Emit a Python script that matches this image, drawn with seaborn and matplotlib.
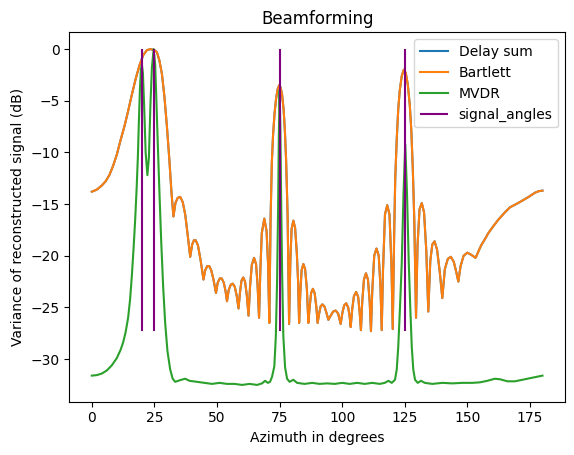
"""Beamforming spectrum: delay-sum / Bartlett vs MVDR, with true signal angles."""

import matplotlib
matplotlib.use('Agg')
import matplotlib.pyplot as plt
import seaborn as sns

# values
bartlett_deg = [
    0, 2, 4, 5.5, 7, 8.5, 10, 11.5, 13, 14.5, 16, 17.5, 19, 20.5, 22, 23.5,
    25, 26, 27, 28, 29, 30, 31, 31.8, 32.6,
    33.4, 34.3, 35.3, 36.3, 37.3, 38.3, 39.3,
    40.1, 40.8, 41.5, 42.4, 43.5, 44.6,
    45.3, 46.1, 46.9, 47.7, 48.6, 49.6,
    50.3, 51.1, 51.9, 52.7, 53.4, 54.0,
    54.7, 55.5, 56.3, 57.1, 57.9, 58.6,
    59.2, 59.8, 60.5, 61.2, 61.9, 62.6,
    63.2, 63.9, 64.8, 65.6, 66.2, 66.8,
    67.3, 67.9, 68.9, 69.8, 70.4, 70.9,
    71.4, 71.9, 72.4, 73.0, 73.6, 74.2, 74.8, 75.4, 76.0, 76.6, 77.1, 77.6,
    78.2, 78.8,
    79.3, 79.8, 80.5, 81.2, 81.9, 82.4, 82.8,
    83.3, 83.8, 84.5, 85.2, 85.9, 86.5,
    87.0, 87.6, 88.3, 89.0, 89.7, 90.2,
    90.8, 91.4, 92.1, 92.9, 93.7, 94.5,
    95.4, 96.4, 97.4, 98.4, 99.4,
    100.1, 100.8, 101.6, 102.4, 103.0, 103.4,
    104.0, 104.7, 105.6, 106.4, 107.0, 107.5,
    108.0, 108.7, 109.5, 110.3, 111.0, 111.5,
    112.0, 112.8, 113.7, 114.6, 115.3, 115.8,
    116.3, 117.1, 118.0, 118.9, 119.7, 120.2,
    120.8, 121.2, 121.8, 122.4, 123.0, 123.8, 124.6, 125.4, 126.2, 127.0,
    127.6, 128.2, 128.8, 129.5,
    130.1, 130.9, 131.8, 132.7, 133.6, 134.4,
    135.2, 136.0, 136.9, 137.9, 139.0, 140.0,
    141.0, 142.2, 143.4, 144.6, 145.6, 146.4,
    147.3, 148.5, 150.0, 151.5, 153.3,
    155.5, 157.0, 158.4, 160.5, 162.4, 165.0, 167.1, 169.5, 171.7, 174.5,
    177.0, 178.5, 180.0,
]
bartlett_db = [
    -13.8, -13.6, -13.2, -12.8, -12.2, -11.3, -10.2, -8.8, -7.5, -6.0, -4.4,
    -2.9, -1.6, -0.6, -0.1, 0.0,
    -0.1, -0.3, -1.1, -2.4, -4.6, -7.5, -10.8, -13.8, -16.2,
    -14.9, -14.4, -14.3, -14.8, -16.0, -18.0, -20.1,
    -18.9, -18.5, -18.5, -19.0, -20.5, -22.3,
    -21.4, -21.0, -21.0, -21.4, -22.3, -23.6,
    -22.6, -22.2, -22.2, -22.6, -23.4, -24.4,
    -23.3, -22.8, -22.7, -23.0, -23.9, -25.1,
    -23.5, -22.4, -22.1, -22.5, -23.8, -25.8,
    -23.0, -20.9, -20.2, -20.8, -22.8, -26.0,
    -21.5, -17.8, -16.4, -17.6, -20.8, -26.5,
    -16.5, -11.0, -8.3, -6.2, -4.8, -3.9, -3.5, -3.7, -4.4, -5.8, -7.8, -10.7,
    -16.0, -26.6,
    -20.5, -17.4, -16.6, -17.3, -19.8, -22.5, -26.5,
    -23.5, -21.4, -20.8, -21.3, -23.2, -26.5,
    -25.0, -23.6, -23.2, -23.6, -25.0, -26.5,
    -25.6, -24.9, -24.7, -24.9, -25.5, -26.2,
    -25.8, -25.4, -25.3, -25.6, -26.6,
    -25.5, -24.8, -24.6, -25.0, -25.9, -26.9,
    -25.2, -23.9, -23.5, -24.0, -25.5, -27.2,
    -24.5, -22.3, -21.7, -22.3, -24.5, -27.3,
    -23.5, -20.0, -19.3, -20.0, -23.0, -27.2,
    -21.5, -16.0, -15.1, -16.0, -21.0, -27.1,
    -17.5, -12.5, -8.7, -5.8, -4.0, -2.6, -2.0, -2.3, -3.4, -5.4,
    -7.8, -11.5, -16.5, -26.0,
    -19.0, -15.5, -14.9, -15.8, -19.5, -25.4,
    -20.5, -18.9, -18.6, -19.4, -21.6, -24.1,
    -21.3, -20.3, -20.1, -20.6, -21.6, -22.5,
    -21.0, -20.0, -19.7, -19.9, -20.2,
    -19.0, -18.4, -17.8, -17.1, -16.5, -15.8, -15.3, -15.0, -14.7, -14.3,
    -13.9, -13.75, -13.7,
]
# delay-and-sum gives the same spectrum as Bartlett
delay_sum_deg = bartlett_deg
delay_sum_db = bartlett_db

mvdr_deg = [
    0, 2, 4, 6, 8, 10, 11.5, 12.5, 13.5, 14.5, 15.3, 16, 16.7, 17.3, 17.9,
    18.4, 18.8, 19.2, 19.6, 20.0, 20.4, 20.9, 21.5, 22.2, 22.8, 23.4, 24.0,
    24.7, 25.3, 25.8, 26.3, 27.0, 27.7, 28.5, 29.3, 30.2, 31.3, 32.3, 33.3,
    34.5, 35.8, 37.3, 39, 42, 45, 48, 51, 54, 57, 60, 63, 66, 68, 69.2, 70.3,
    71.2, 72.0, 72.9, 73.5, 74.0, 74.4, 74.7, 75.0, 75.3, 75.6, 76.0, 76.5,
    77.2, 78.0, 79.0, 80.5, 82, 85, 88, 91, 94, 97, 100, 103, 106, 109, 112,
    115, 117, 118.5, 119.8, 121.1, 121.8, 122.4, 123.1, 123.8, 124.5, 125.2,
    125.9, 126.6, 127.2, 127.8, 128.4, 129.1, 130.2, 131.5, 133, 136, 140,
    144, 148, 152, 155, 158, 161, 163, 166, 169, 172, 175, 178, 180,
]
mvdr_db = [
    -31.6, -31.55, -31.4, -31.1, -30.6, -29.9, -29.1, -28.4, -27.4, -26.0,
    -24.2, -21.9, -19.2, -16.6, -13.5, -10.4, -7.0, -4.0, -2.0, -1.5, -2.3,
    -5.5, -10.0, -12.2, -10.5, -5.5, -1.8, 0.0, -1.5, -5.0, -8.8, -13.8,
    -18.5, -23.0, -26.5, -29.2, -31.0, -31.9, -32.2, -32.1, -32.0, -31.9,
    -32.1, -32.2, -32.3, -32.4, -32.3, -32.4, -32.4, -32.5, -32.4, -32.5,
    -32.35, -32.1, -32.3, -32.2, -31.7, -30.7, -27.8, -22.5, -15.5, -8.5,
    -4.0, -7.5, -14.0, -21.5, -27.8, -30.8, -31.9, -32.2, -32.0, -32.3,
    -32.4, -32.3, -32.4, -32.35, -32.4, -32.3, -32.4, -32.3, -32.4, -32.3,
    -32.4, -32.3, -32.1, -32.3, -32.0, -31.0, -28.8, -25.0, -20.7, -14.0,
    -9.2, -14.0, -20.7, -25.0, -28.8, -31.0, -32.0, -32.3, -32.1, -32.3,
    -32.4, -32.3, -32.35, -32.3, -32.3, -32.25, -32.1, -31.9, -31.95,
    -32.15, -32.15, -32.0, -31.85, -31.7, -31.6,
]

signal_angles = [20, 25, 75, 125]

if __name__ == '__main__':

    fig = plt.figure(figsize=(5.74, 4.55), dpi=100)
    ax = fig.add_axes([0.1207, 0.1171, 0.8636, 0.8119])

    sns.lineplot(x=delay_sum_deg, y=delay_sum_db, label='Delay sum',
                 color='C0', estimator=None, sort=False, ax=ax)
    sns.lineplot(x=bartlett_deg, y=bartlett_db, label='Bartlett',
                 color='C1', estimator=None, sort=False, ax=ax)
    sns.lineplot(x=mvdr_deg, y=mvdr_db, label='MVDR',
                 color='C2', estimator=None, sort=False, ax=ax)
    ax.vlines(signal_angles, min(bartlett_db), max(bartlett_db),
              colors='purple', label='signal_angles')

    ax.set_title('Beamforming')
    ax.set_xlabel('Azimuth in degrees')
    ax.set_ylabel('Variance of reconstructed signal (dB)')
    ax.legend(loc='upper right')

    fig.savefig('out.png', dpi=100)
